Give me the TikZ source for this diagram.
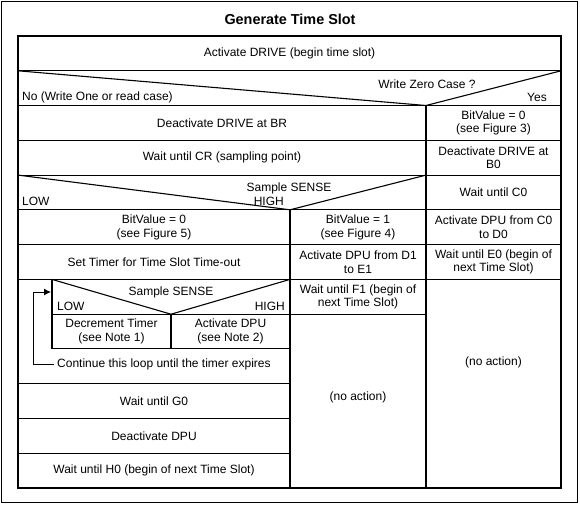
\documentclass[tikz,border=0pt]{standalone}
\usepackage{fontspec}
\setmainfont{Liberation Sans}
\usetikzlibrary{arrows.meta}
\tikzset{
    cell/.style={align=center, inner sep=0pt, font=\fontsize{12}{13.5}\selectfont},
    lbl/.style={inner sep=0pt, font=\fontsize{12}{13.5}\selectfont},
    grid/.style={draw=black, line width=1.1pt},
    loopedge/.style={-{Latex[length=7pt,width=7pt]}, line width=1pt},
}

\begin{document}
\begin{tikzpicture}[x=1pt,y=-1pt]
\useasboundingbox (0,0) rectangle (580,504);
\draw[line width=1.2pt] (1.5,1.5) rectangle (577.5,502.5);
\node[font=\bfseries\fontsize{14.4}{16}\selectfont, anchor=base] (title) at (290,24.5) {Generate Time Slot};

% frame and rows
\draw[grid] (18,36) rectangle (561,488);
\foreach \k in {1,...,7}
    \draw[grid] (18,{36+34.77*\k}) -- (561,{36+34.77*\k});
\foreach \k in {10,11,12}
    \draw[grid] (18,{36+34.77*\k}) -- (290,{36+34.77*\k});
\draw[grid] (52,314.2) -- (426,314.2);
\draw[grid] (52,348.9) -- (290,348.9);
% columns
\draw[grid] (426,105.5) -- (426,488);
\draw[grid] (290,209.8) -- (290,488);
\draw[grid] (52,279.4) -- (52,348.9);
\draw[grid] (171,314.2) -- (171,348.9);
% decisions
\draw[grid] (18,70.8) -- (426,105.5) -- (561,70.8);
\draw[grid] (18,175.1) -- (290,209.8) -- (426,175.1);
\draw[grid] (52,279.4) -- (171,314.2) -- (290,279.4);

\node[cell] (drive) at (289.5,53.4) {Activate DRIVE (begin time slot)};
\node[lbl] (q1) at (427,84) {Write Zero Case ?};
\node[lbl, anchor=west] (no) at (22,97) {No (Write One or read case)};
\node[lbl, anchor=east] (yes) at (547,97) {Yes};

\node[cell] (br) at (222,122.9) {Deactivate DRIVE at BR};
\node[cell] (cr) at (222,157.7) {Wait until CR (sampling point)};
\node[lbl] (q2) at (289,188) {Sample SENSE};
\node[lbl, anchor=west] (low) at (22,201) {LOW};
\node[lbl, anchor=east] (high) at (284,201) {HIGH};

\node[cell] (bit0) at (154,227.2) {BitValue = 0\\(see Figure 5)};
\node[cell] (timer) at (154,262) {Set Timer for Time Slot Time-out};
\node[lbl] (q3) at (171,292.5) {Sample SENSE};
\node[lbl, anchor=west] (low2) at (57,306) {LOW};
\node[lbl, anchor=east] (high2) at (285,306) {HIGH};
\node[cell] (dec) at (111.5,331.5) {Decrement Timer\\(see Note 1)};
\node[cell] (dpu) at (230.5,331.5) {Activate DPU\\(see Note 2)};
\node[lbl, anchor=west] (cont) at (57,364.5) {Continue this loop until the timer expires};
\draw[loopedge] ([xshift=-3pt]cont.west) -- (33,364.5) |- (51,292);
\node[cell] (g0) at (154,401.1) {Wait until G0};
\node[cell] (off) at (154,435.8) {Deactivate DPU};
\node[cell] (h0) at (154,470.6) {Wait until H0 (begin of next Time Slot)};

\node[cell] (bit1) at (358,227.2) {BitValue = 1\\(see Figure 4)};
\node[cell] (d1) at (358,262) {Activate DPU from D1\\to E1};
\node[cell] (f1) at (358,296.8) {Wait until F1 (begin of\\next Time Slot)};
\node[cell] (none1) at (358,397) {(no action)};

\node[cell] (bit0r) at (493.5,122.9) {BitValue = 0\\(see Figure 3)};
\node[cell] (b0) at (493.5,157.7) {Deactivate DRIVE at\\B0};
\node[cell] (c0) at (493.5,192.5) {Wait until C0};
\node[cell] (d0) at (493.5,227.2) {Activate DPU from C0\\to D0};
\node[cell] (e0) at (493.5,262) {Wait until E0 (begin of\\next Time Slot)};
\node[cell] (none2) at (493.5,362) {(no action)};
\end{tikzpicture}
\end{document}
